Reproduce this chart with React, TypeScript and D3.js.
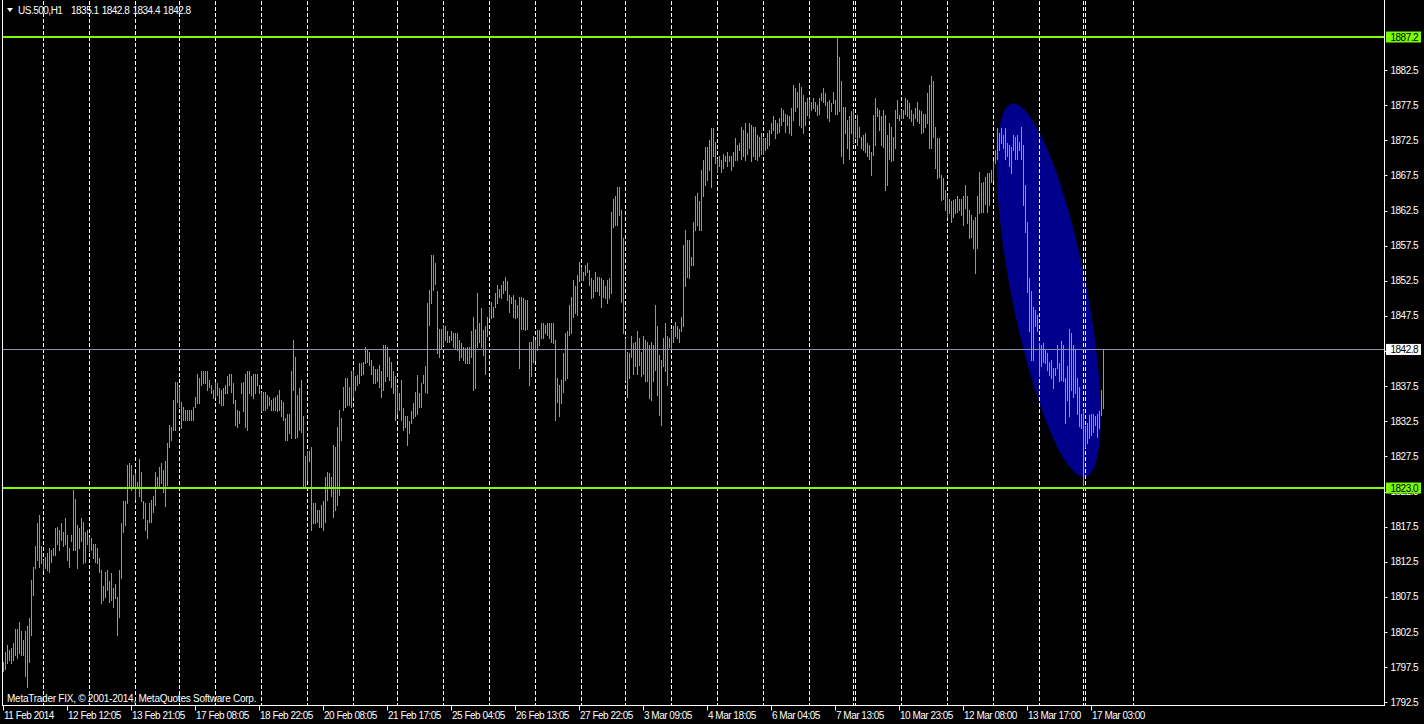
import React from 'react';
import * as d3 from 'd3';

// ---------- DATA ----------
const symbolTitle = 'US.500,H1';
const titleOHLC = ['1835.1', '1842.8', '1834.4', '1842.8'];
const copyright = 'MetaTrader FIX, \u00A9 2001-2014, MetaQuotes Software Corp.';

// bar highs / lows, segment 1 (bars 0-183)
const seg1High = [
  1798.3, 1799.7, 1800.7, 1800.0, 1800.2, 1800.9, 1803.0, 1803.0, 1804.0, 1802.6,
  1801.4, 1802.6, 1803.3, 1804.5, 1809.9, 1811.8, 1814.7, 1818.0, 1819.2, 1814.7,
  1812.8, 1813.2, 1813.7, 1814.4, 1814.2, 1814.4, 1817.3, 1817.5, 1817.0, 1818.0,
  1816.8, 1818.7, 1816.3, 1814.4, 1816.3, 1822.7, 1821.5, 1817.7, 1817.3, 1818.7,
  1818.2, 1816.8, 1817.0, 1816.1, 1815.9, 1815.1, 1815.1, 1814.4, 1813.0, 1811.3,
  1809.0, 1811.1, 1811.3, 1809.7, 1810.9, 1808.7, 1809.4, 1807.5, 1811.3, 1818.0,
  1821.1, 1821.1, 1826.3, 1826.5, 1826.3, 1824.9, 1825.1, 1823.9, 1827.2, 1825.3,
  1821.1, 1820.8, 1818.5, 1820.8, 1821.3, 1821.8, 1825.3, 1824.6, 1826.0, 1826.5,
  1825.6, 1826.8, 1829.4, 1832.0, 1831.7, 1835.5, 1838.1, 1838.1, 1837.4, 1835.3,
  1834.6, 1834.1, 1834.1, 1834.1, 1834.1, 1834.6, 1836.0, 1839.3, 1838.6, 1839.6,
  1839.6, 1839.6, 1839.6, 1838.4, 1837.7, 1837.0, 1838.1, 1837.9, 1837.2, 1837.0,
  1837.2, 1837.7, 1838.9, 1839.3, 1839.3, 1837.9, 1835.5, 1834.1, 1833.9, 1837.9,
  1838.1, 1839.3, 1839.6, 1839.6, 1838.9, 1839.3, 1839.3, 1839.3, 1837.7, 1836.7,
  1836.7, 1836.7, 1836.2, 1836.0, 1835.5, 1835.8, 1836.0, 1836.2, 1837.0, 1835.5,
  1835.3, 1832.9, 1833.6, 1833.6, 1839.6, 1844.1, 1841.7, 1836.2, 1837.2, 1838.4,
  1833.2, 1827.5, 1828.2, 1828.2, 1828.9, 1820.8, 1820.8, 1819.9, 1819.9, 1820.6,
  1821.1, 1824.6, 1825.3, 1825.1, 1824.6, 1829.1, 1828.9, 1831.7, 1834.1, 1832.9,
  1837.4, 1838.6, 1838.6, 1837.4, 1839.6, 1839.8, 1838.9, 1839.1, 1840.8, 1840.8,
  1841.0, 1843.1, 1842.7, 1842.4,
];
const seg1Low = [
  1796.9, 1797.3, 1798.1, 1798.5, 1798.1, 1798.5, 1799.2, 1798.8, 1799.5, 1799.2,
  1799.2, 1796.2, 1794.7, 1798.3, 1802.1, 1807.8, 1811.6, 1812.8, 1811.8, 1812.3,
  1811.3, 1811.6, 1811.3, 1811.1, 1812.5, 1813.5, 1813.5, 1815.1, 1814.2, 1815.6,
  1814.7, 1815.1, 1812.8, 1811.8, 1815.4, 1814.2, 1814.2, 1811.6, 1814.4, 1815.4,
  1812.3, 1812.5, 1815.1, 1814.0, 1814.2, 1813.0, 1812.5, 1812.3, 1811.1, 1806.6,
  1807.1, 1807.5, 1808.5, 1806.8, 1807.1, 1806.1, 1807.3, 1802.1, 1804.7, 1810.2,
  1816.8, 1817.7, 1820.8, 1823.2, 1822.7, 1823.0, 1821.5, 1823.0, 1821.8, 1821.1,
  1818.7, 1817.0, 1815.9, 1818.2, 1818.2, 1819.6, 1820.6, 1823.0, 1823.0, 1823.7,
  1822.5, 1820.4, 1823.4, 1828.9, 1829.8, 1831.3, 1831.3, 1835.3, 1834.6, 1831.5,
  1832.7, 1832.7, 1832.7, 1832.7, 1832.7, 1832.7, 1834.6, 1835.1, 1835.1, 1837.7,
  1837.9, 1837.9, 1837.0, 1837.4, 1836.5, 1835.8, 1836.0, 1836.2, 1835.1, 1834.8,
  1834.8, 1836.5, 1836.5, 1837.7, 1836.7, 1835.1, 1832.0, 1831.7, 1832.2, 1836.5,
  1833.9, 1831.7, 1831.3, 1836.5, 1836.2, 1835.8, 1836.5, 1837.7, 1836.5, 1833.9,
  1834.1, 1834.1, 1834.4, 1834.8, 1834.1, 1834.1, 1834.1, 1833.9, 1834.1, 1833.2,
  1832.7, 1829.8, 1829.8, 1830.8, 1830.1, 1837.0, 1830.1, 1830.3, 1831.3, 1831.0,
  1823.2, 1823.2, 1824.2, 1826.8, 1817.0, 1818.0, 1818.0, 1818.2, 1817.5, 1817.5,
  1817.0, 1818.2, 1821.3, 1823.2, 1821.8, 1818.9, 1819.9, 1820.6, 1822.0, 1829.8,
  1834.1, 1834.6, 1834.8, 1834.8, 1834.6, 1836.0, 1837.0, 1837.7, 1837.9, 1839.1,
  1839.3, 1840.8, 1841.0, 1840.5,
];

// segment 2 (bars 184-349)
const seg2High = [
  1841.2, 1840.3, 1840.0, 1840.0, 1840.5, 1839.6, 1843.4, 1843.4, 1843.1, 1841.7,
  1841.0, 1839.6, 1838.9, 1837.4, 1836.5, 1838.4, 1834.4, 1833.2, 1833.2, 1832.5,
  1833.9, 1835.1, 1836.7, 1839.1, 1836.5, 1837.9, 1839.1, 1840.3, 1849.3, 1851.2,
  1856.2, 1856.2, 1855.0, 1851.0, 1845.7, 1845.7, 1846.2, 1846.0, 1845.3, 1844.6,
  1845.3, 1845.0, 1845.0, 1845.0, 1844.1, 1843.6, 1843.1, 1842.9, 1843.1, 1843.1,
  1845.3, 1847.4, 1845.7, 1850.7, 1846.5, 1848.6, 1845.5, 1846.0, 1847.4, 1848.8,
  1849.5, 1848.8, 1850.7, 1851.9, 1851.4, 1851.9, 1852.4, 1853.1, 1852.4, 1850.5,
  1850.2, 1850.5, 1849.8, 1849.1, 1850.2, 1850.2, 1850.0, 1849.8, 1849.8, 1843.8,
  1843.8, 1844.6, 1844.1, 1845.5, 1845.5, 1846.5, 1846.5, 1846.2, 1846.5, 1846.5,
  1846.5, 1846.5, 1844.1, 1838.6, 1837.7, 1838.4, 1842.2, 1845.0, 1845.3, 1849.1,
  1850.2, 1852.6, 1851.7, 1853.3, 1855.2, 1854.5, 1853.8, 1854.8, 1855.0, 1854.0,
  1852.9, 1852.6, 1853.8, 1853.1, 1853.1, 1852.9, 1852.6, 1851.7, 1852.6, 1852.9,
  1862.3, 1864.2, 1864.5, 1865.9, 1865.9, 1862.6, 1858.6, 1844.3, 1842.4, 1842.2,
  1844.6, 1843.6, 1843.8, 1845.3, 1844.3, 1842.4, 1844.6, 1844.1, 1843.8, 1843.4,
  1843.8, 1843.4, 1849.1, 1846.0, 1841.9, 1841.2, 1844.3, 1846.5, 1844.6, 1844.3,
  1845.5, 1846.0, 1846.7, 1846.0, 1845.7, 1847.4, 1857.6, 1859.7, 1858.3, 1858.3,
  1855.9, 1860.9, 1864.5, 1865.0, 1863.8, 1868.3,
];
const seg2Low = [
  1839.3, 1837.9, 1838.0, 1838.2, 1837.4, 1836.0, 1837.0, 1838.2, 1838.9, 1838.4,
  1837.4, 1836.5, 1832.7, 1833.6, 1834.1, 1832.7, 1831.3, 1831.7, 1829.1, 1830.8,
  1832.2, 1832.9, 1833.2, 1833.6, 1834.6, 1834.6, 1837.9, 1836.7, 1836.5, 1846.2,
  1849.3, 1851.2, 1852.1, 1842.2, 1841.7, 1842.9, 1843.4, 1844.1, 1843.8, 1843.8,
  1844.1, 1843.1, 1842.9, 1842.7, 1841.2, 1841.7, 1841.2, 1840.8, 1840.8, 1840.8,
  1841.7, 1837.0, 1837.2, 1843.1, 1843.8, 1843.1, 1841.9, 1839.3, 1844.6, 1847.2,
  1847.2, 1847.4, 1848.8, 1849.3, 1850.2, 1850.0, 1850.7, 1851.2, 1849.8, 1848.1,
  1849.3, 1847.4, 1847.2, 1847.4, 1840.1, 1845.7, 1845.7, 1845.5, 1845.7, 1837.7,
  1838.9, 1841.0, 1841.2, 1842.7, 1843.4, 1844.3, 1844.3, 1845.0, 1844.8, 1844.3,
  1843.8, 1843.6, 1832.7, 1835.3, 1833.2, 1835.1, 1836.7, 1838.4, 1838.6, 1844.8,
  1845.0, 1847.4, 1847.9, 1847.6, 1852.4, 1852.6, 1852.6, 1853.3, 1853.8, 1851.9,
  1850.0, 1850.2, 1851.0, 1851.0, 1850.5, 1848.8, 1850.2, 1850.0, 1849.3, 1850.0,
  1850.7, 1860.2, 1860.4, 1860.4, 1861.9, 1849.5, 1845.0, 1838.4, 1836.0, 1838.6,
  1841.7, 1839.3, 1840.3, 1839.3, 1840.5, 1838.9, 1839.3, 1838.2, 1838.2, 1835.8,
  1835.5, 1838.2, 1839.8, 1836.3, 1833.4, 1832.0, 1840.3, 1839.6, 1837.7, 1843.1,
  1842.9, 1843.8, 1844.6, 1844.3, 1843.8, 1845.3, 1846.0, 1851.7, 1853.1, 1852.9,
  1854.8, 1854.8, 1859.7, 1860.4, 1859.7, 1859.7,
];

// segment 3 (bars 350-550)
const seg3High = [
  1869.7, 1871.6, 1871.6, 1872.5, 1874.2, 1874.2, 1872.3, 1869.9, 1870.2, 1869.7,
  1870.6, 1870.2, 1870.9, 1870.2, 1870.2, 1870.9, 1872.8, 1871.8, 1872.1, 1874.4,
  1874.0, 1874.9, 1873.5, 1874.9, 1874.7, 1874.4, 1874.4, 1873.3, 1873.0, 1873.5,
  1872.8, 1872.8, 1873.5, 1874.0, 1874.9, 1875.9, 1875.4, 1874.9, 1875.6, 1877.1,
  1876.8, 1876.3, 1876.1, 1875.9, 1877.1, 1880.4, 1879.9, 1879.4, 1880.6, 1880.1,
  1879.0, 1878.0, 1878.5, 1878.2, 1878.0, 1878.5, 1878.0, 1877.5, 1878.5, 1879.2,
  1879.9, 1879.2, 1878.0, 1878.2, 1877.8, 1879.4, 1878.2, 1887.2, 1884.4, 1880.9,
  1877.3, 1877.3, 1875.4, 1875.9, 1876.6, 1876.8, 1875.4, 1876.1, 1874.4, 1873.0,
  1873.3, 1873.5, 1872.1, 1871.8, 1870.9, 1876.1, 1878.5, 1877.1, 1876.8, 1875.9,
  1876.8, 1876.1, 1873.3, 1874.9, 1874.4, 1873.0, 1876.8, 1878.2, 1876.1, 1876.8,
  1876.8, 1878.5, 1878.2, 1877.8, 1876.8, 1876.3, 1877.1, 1878.0, 1876.8, 1876.6,
  1876.3, 1876.3, 1879.2, 1880.4, 1881.6, 1880.9, 1874.4, 1872.8, 1872.8, 1867.6,
  1867.1, 1865.4, 1864.5, 1864.2, 1863.8, 1864.0, 1864.2, 1864.5, 1864.2, 1864.2,
  1864.5, 1866.1, 1864.5, 1862.6, 1861.9, 1861.2, 1861.6, 1864.5, 1868.0, 1866.4,
  1866.6, 1867.3, 1867.8, 1867.8, 1868.3, 1869.5, 1871.1, 1874.2, 1873.5, 1874.2,
  1873.3, 1874.2, 1872.1, 1871.8, 1871.6, 1873.3, 1873.0, 1873.3, 1872.3, 1874.4,
  1871.8, 1866.1, 1860.9, 1852.9, 1851.0, 1848.8, 1848.4, 1847.6, 1843.6, 1843.4,
  1843.6, 1842.7, 1842.2, 1841.0, 1841.2, 1840.1, 1840.1, 1843.4, 1840.8, 1843.9,
  1843.4, 1838.6, 1840.3, 1845.7, 1845.0, 1843.4, 1842.7, 1838.6, 1837.4, 1833.6,
  1834.1, 1831.8, 1832.2, 1833.4, 1833.6, 1833.6, 1833.2, 1833.6, 1833.9, 1836.9,
  1842.8,
];
const seg3Low = [
  1864.5, 1866.1, 1866.9, 1868.3, 1865.9, 1870.2, 1869.2, 1868.0, 1868.8, 1868.0,
  1868.5, 1869.5, 1868.8, 1869.5, 1868.3, 1868.8, 1869.7, 1869.7, 1871.1, 1869.9,
  1870.2, 1869.7, 1870.6, 1871.4, 1869.5, 1870.2, 1869.9, 1869.7, 1870.2, 1870.6,
  1870.6, 1871.1, 1871.4, 1871.8, 1873.5, 1874.0, 1872.8, 1873.5, 1873.7, 1874.7,
  1875.2, 1873.7, 1874.7, 1873.5, 1873.3, 1875.4, 1876.6, 1877.3, 1874.7, 1874.4,
  1873.5, 1874.7, 1876.1, 1875.6, 1876.8, 1877.1, 1876.6, 1876.1, 1876.3, 1878.2,
  1878.0, 1877.5, 1875.6, 1875.2, 1876.6, 1877.8, 1876.3, 1876.3, 1876.6, 1870.2,
  1869.2, 1873.5, 1871.4, 1869.9, 1873.5, 1872.1, 1873.0, 1871.8, 1873.0, 1871.4,
  1871.1, 1870.9, 1870.2, 1869.9, 1867.6, 1870.4, 1871.8, 1875.9, 1874.0, 1871.8,
  1871.6, 1865.4, 1866.1, 1869.9, 1869.5, 1869.7, 1871.4, 1875.6, 1875.4, 1875.6,
  1875.6, 1876.3, 1875.9, 1875.6, 1875.2, 1874.7, 1875.6, 1875.2, 1874.9, 1873.5,
  1873.7, 1874.4, 1874.9, 1871.4, 1871.4, 1873.0, 1868.5, 1867.1, 1867.3, 1864.0,
  1864.2, 1862.6, 1861.6, 1862.1, 1860.9, 1861.6, 1862.1, 1862.3, 1862.6, 1861.9,
  1860.4, 1862.8, 1860.7, 1858.6, 1858.8, 1857.1, 1853.6, 1857.1, 1862.1, 1862.3,
  1862.3, 1863.5, 1862.3, 1863.3, 1866.6, 1866.9, 1869.2, 1869.9, 1871.1, 1872.1,
  1871.4, 1869.9, 1870.2, 1868.8, 1867.8, 1871.1, 1869.9, 1869.9, 1871.1, 1869.9,
  1863.3, 1859.5, 1850.9, 1845.3, 1841.2, 1841.2, 1846.0, 1845.3, 1838.9, 1840.3,
  1841.0, 1840.8, 1839.8, 1839.1, 1838.6, 1837.2, 1839.1, 1840.1, 1838.2, 1838.4,
  1838.2, 1832.2, 1835.5, 1833.2, 1837.0, 1836.0, 1836.5, 1833.6, 1831.8, 1831.5,
  1823.5, 1828.9, 1829.4, 1830.1, 1830.6, 1831.0, 1832.0, 1830.3, 1831.5, 1833.4,
  1834.4,
];

// daily period separators (bar indices)
const separatorBars = [20, 43, 66, 88, 106, 129, 152, 175, 197, 220, 243, 266, 289, 311, 334, 357, 380, 403, 425, 426, 449, 472, 495, 518, 540, 541, 565];

// time axis labels, one every 32 bars
const timeLabels = [
  '11 Feb 2014', '12 Feb 12:05', '13 Feb 21:05', '17 Feb 08:05', '18 Feb 22:05', '20 Feb 08:05',
  '21 Feb 17:05', '25 Feb 04:05', '26 Feb 13:05', '27 Feb 22:05', '3 Mar 09:05', '4 Mar 18:05',
  '6 Mar 04:05', '7 Mar 13:05', '10 Mar 23:05', '12 Mar 08:00', '13 Mar 17:00', '17 Mar 03:00',
];
const timeLabelStep = 32;

// price axis ticks
const priceTicks = [1882.5, 1877.5, 1872.5, 1867.5, 1862.5, 1857.5, 1852.5, 1847.5, 1842.5, 1837.5,
  1832.5, 1827.5, 1822.5, 1817.5, 1812.5, 1807.5, 1802.5, 1797.5, 1792.5];

// horizontal level lines and bid
const levelLines = [1887.2, 1823.0];
const bidPrice = 1842.8;

// ellipse object: two anchor points (bar index, price) and minor/major ratio
const ellipseAnchors = [
  { bar: 504.3, price: 1877.7 },
  { bar: 540.9, price: 1824.6 },
];
const ellipseRatio = 0.198;

// ---------- CHART ----------
const W = 1424;
const H = 724;
const FONT = "'Liberation Sans', Arial, sans-serif";
const BAR_COLOR = '#33dd33';
const LEVEL_COLOR = '#7cfc00';
const BID_COLOR = '#8a94a6';
const FS = 10;
const LS = -0.5;

export default function App() {
  const highs = [...seg1High, ...seg2High, ...seg3High];
  const lows = [...seg1Low, ...seg2Low, ...seg3Low];

  const x = d3.scaleLinear().domain([0, 1]).range([3.5, 5.5]);
  const y = d3.scaleLinear().domain([1792.5, 1887.2]).range([702.3, 37]);

  const plotRight = 1384.5;
  const plotBottom = 705.5;

  // ellipse geometry from anchors
  const p1 = { x: x(ellipseAnchors[0].bar), y: y(ellipseAnchors[0].price) };
  const p2 = { x: x(ellipseAnchors[1].bar), y: y(ellipseAnchors[1].price) };
  const ecx = (p1.x + p2.x) / 2;
  const ecy = (p1.y + p2.y) / 2;
  const major = Math.hypot(p2.x - p1.x, p2.y - p1.y) / 2;
  const minor = major * ellipseRatio;
  const angle = (Math.atan2(p2.y - p1.y, p2.x - p1.x) * 180) / Math.PI;

  const bars = highs.map((h, i) => ({ i, h, l: lows[i] }));

  return (
    <svg
      width={W}
      height={H}
      style={{ position: 'absolute', left: 0, top: 0, display: 'block', background: '#000' }}
      fontFamily={FONT}
    >
      <rect x={0} y={0} width={W} height={H} fill="#000" />
      <defs>
        <clipPath id="plot">
          <rect x={3} y={0} width={plotRight - 3} height={plotBottom} />
        </clipPath>
      </defs>

      <g clipPath="url(#plot)">
        <ellipse
          cx={ecx}
          cy={ecy}
          rx={major}
          ry={minor}
          fill="#00008c"
          transform={`rotate(${angle} ${ecx} ${ecy})`}
        />
        {separatorBars.map((b, k) => (
          <line
            key={'s' + k}
            x1={x(b)}
            x2={x(b)}
            y1={1}
            y2={plotBottom}
            stroke="#fff"
            strokeWidth={1}
            strokeDasharray="4,2"
            shapeRendering="crispEdges"
          />
        ))}
        {bars.map((d) => (
          <line
            key={'b' + d.i}
            x1={x(d.i)}
            x2={x(d.i)}
            y1={Math.round(y(d.h))}
            y2={Math.round(y(d.l)) + 1}
            stroke={BAR_COLOR}
            strokeWidth={1}
            shapeRendering="crispEdges"
          />
        ))}
        {levelLines.map((v, k) => (
          <line key={'lv' + k} x1={3} x2={plotRight} y1={y(v)} y2={y(v)} stroke={LEVEL_COLOR} strokeWidth={2} shapeRendering="crispEdges" />
        ))}
        <line x1={3} x2={plotRight} y1={Math.round(y(bidPrice)) + 0.5} y2={Math.round(y(bidPrice)) + 0.5} stroke={BID_COLOR} strokeWidth={1} shapeRendering="crispEdges" />
      </g>

      {/* frame */}
      <line x1={2.5} x2={2.5} y1={0} y2={plotBottom} stroke="#fff" strokeWidth={1} />
      <line x1={plotRight} x2={plotRight} y1={0} y2={plotBottom} stroke="#fff" strokeWidth={1} />
      <line x1={2} x2={plotRight + 0.5} y1={plotBottom} y2={plotBottom} stroke="#fff" strokeWidth={1} />

      {/* price axis */}
      {priceTicks.map((v) => (
        <g key={'p' + v}>
          <line x1={plotRight} x2={plotRight + 3} y1={Math.round(y(v)) + 0.5} y2={Math.round(y(v)) + 0.5} stroke="#fff" strokeWidth={1} />
          <text x={1390.5} y={y(v) + 3.5} fill="#fff" fontSize={FS} letterSpacing={LS}>
            {v.toFixed(1)}
          </text>
        </g>
      ))}
      {levelLines.map((v, k) => (
        <g key={'lb' + k}>
          <rect x={1386} y={y(v) - 5.5} width={35} height={11} fill={LEVEL_COLOR} />
          <text x={1390.5} y={y(v) + 3.5} fill="#000" fontSize={FS} letterSpacing={LS}>
            {v.toFixed(1)}
          </text>
        </g>
      ))}
      <rect x={1386} y={y(bidPrice) - 5} width={35} height={11} fill="#fff" />
      <text x={1390.5} y={y(bidPrice) + 4} fill="#000" fontSize={FS} letterSpacing={LS}>
        {bidPrice.toFixed(1)}
      </text>

      {/* time axis */}
      {timeLabels.map((t, k) => {
        const xi = Math.floor(x(k * timeLabelStep)) + 0.5;
        return (
          <g key={'t' + k}>
            <line x1={xi} x2={xi} y1={plotBottom} y2={plotBottom + 5} stroke="#fff" strokeWidth={1} />
            <text x={xi + 0.5} y={719} fill="#fff" fontSize={FS} letterSpacing={LS}>
              {t}
            </text>
          </g>
        );
      })}

      {/* title */}
      <path d="M7,8 L13,8 L10,12 Z" fill="#fff" />
      <text x={18} y={14} fill="#fff" fontSize={FS} letterSpacing={LS}>
        {symbolTitle}
      </text>
      {titleOHLC.map((s, k) => (
        <text key={'o' + k} x={71 + k * 30.7} y={14} fill="#fff" fontSize={FS} letterSpacing={LS}>
          {s}
        </text>
      ))}
      <text x={7} y={702} fill="#fff" fontSize={FS} letterSpacing={-0.25}>
        {copyright}
      </text>
    </svg>
  );
}
